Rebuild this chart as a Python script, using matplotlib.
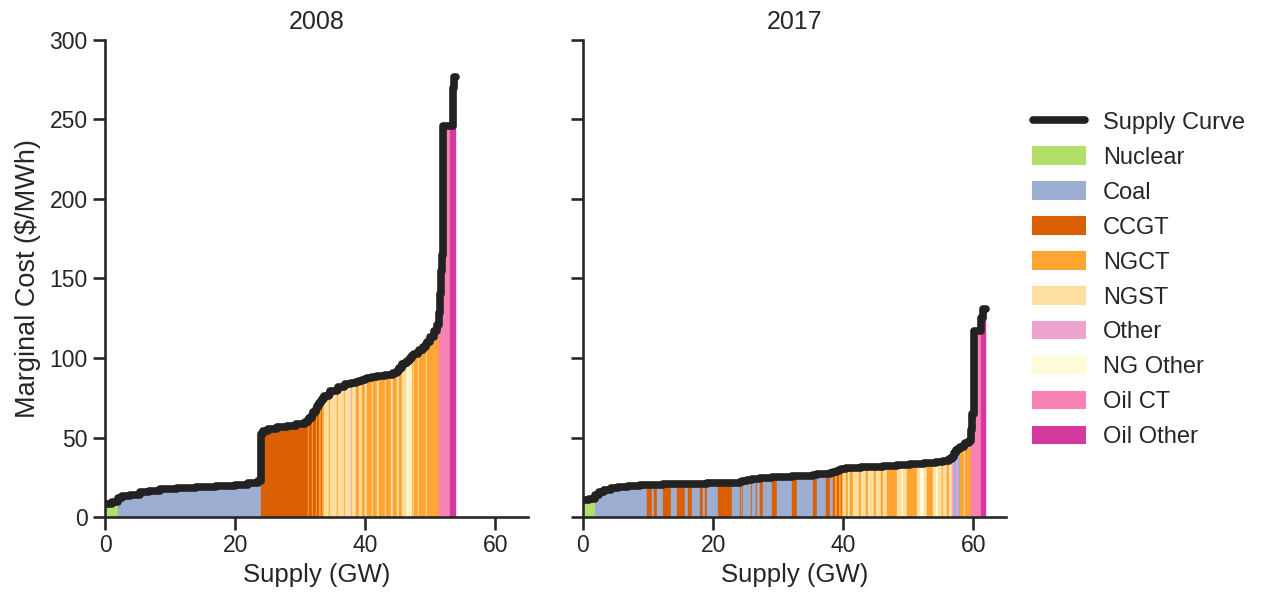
import matplotlib.pyplot as plt
import numpy as np
import seaborn as sns

sns.set_theme(context='talk', style='ticks')
plt.rcParams['font.family'] = ['Liberation Sans', 'DejaVu Sans']

# fuel types in legend order
fuel_names = ['Nuclear', 'Coal', 'CCGT', 'NGCT', 'NGST', 'Other', 'NG Other', 'Oil CT', 'Oil Other']
fuel_colors = ['#b4de6a', '#9daed3', '#d95f02', '#fea433', '#fedf9f',
               '#eea3cf', '#fffdd8', '#f882b3', '#d3399f']

# 2008 merit order: fuel, capacity (GW), marginal cost ($/MWh)
fuel_2008 = ['Nuclear', 'Nuclear',
             'Coal', 'Coal', 'Coal', 'Coal', 'Coal', 'Coal', 'Coal', 'Coal', 'Coal', 'Coal', 'Coal', 'Coal',
             'CCGT', 'CCGT', 'CCGT', 'CCGT', 'CCGT', 'CCGT',
             'CCGT', 'NGCT', 'CCGT', 'NGCT', 'CCGT', 'NGCT', 'CCGT', 'NGCT', 'CCGT', 'NGCT',
             'NGST', 'NGCT', 'NGST', 'NGCT', 'NGST', 'NGCT', 'NGST', 'Other', 'NGST', 'NGCT', 'NGST', 'NGCT', 'NGST', 'Other',
             'NGCT', 'NGST', 'NGCT', 'NGST', 'NGCT', 'NGST', 'NGCT', 'NGST', 'NGCT', 'NGST', 'NGCT', 'NGST',
             'NGST', 'NG Other', 'NGST', 'NG Other', 'NGCT', 'NGST',
             'NGCT', 'NGST', 'NGCT', 'NGCT', 'NGST', 'NGCT', 'NGCT', 'NGST', 'NGCT', 'NGCT',
             'Oil CT', 'Oil CT', 'Oil CT', 'Oil CT', 'Oil CT',
             'Oil Other', 'Oil Other', 'Oil Other']
cap_2008 = [1.0, 1.0,
            0.6, 1.2, 1.5, 1.5, 1.7, 2.5, 3.0, 3.0, 3.0, 2.0, 1.5, 0.5,
            0.3, 0.7, 1.5, 1.5, 1.3, 1.5,
            0.4, 0.2, 0.4, 0.15, 0.5, 0.2, 0.3, 0.3, 0.15, 0.2,
            0.8, 0.2, 1.0, 0.15, 0.9, 0.3, 0.8, 0.15, 0.6, 0.5, 0.5, 0.4, 0.3, 0.1,
            0.7, 0.2, 0.6, 0.3, 0.9, 0.15, 0.8, 0.3, 0.6, 0.3, 0.5, 0.4,
            0.3, 0.3, 0.2, 0.3, 0.2, 0.2,
            0.5, 0.2, 0.6, 0.5, 0.15, 0.5, 0.5, 0.1, 0.4, 0.3,
            0.15, 0.15, 0.15, 0.25, 1.0,
            0.4, 0.3, 0.3]
cost_2008 = [8, 9.5,
             12, 13, 14, 15.5, 16.5, 17.5, 18.2, 18.8, 19.6, 20.3, 21.3, 22.5,
             52, 54, 55.5, 56.5, 57.5, 58.5,
             60, 61, 62, 64, 66, 68, 70, 72, 73, 74.5,
             76, 77.5, 79, 80, 81.5, 82.5, 83.5, 84, 84.5, 85.2, 85.8, 86.3, 86.8, 87,
             87.5, 88, 88.3, 88.6, 88.9, 89.1, 89.3, 89.5, 90.5, 92, 94, 96,
             97, 98, 99, 100, 101, 102,
             102.5, 104, 105, 107, 108.5, 110, 113, 115, 117, 121,
             128, 140, 155, 165, 246,
             246, 270, 277]

# 2017 merit order
fuel_2017 = ['Nuclear', 'Nuclear',
             'Coal', 'Coal', 'Coal', 'Coal', 'Coal', 'Coal', 'Coal',
             'CCGT', 'Coal', 'CCGT', 'Coal', 'CCGT', 'Coal', 'CCGT', 'Coal', 'CCGT', 'Coal',
             'CCGT', 'Coal', 'CCGT', 'Coal', 'CCGT', 'Coal', 'CCGT', 'Coal', 'CCGT', 'Coal',
             'Coal', 'CCGT', 'Coal', 'CCGT', 'Coal', 'CCGT', 'Coal', 'CCGT', 'Coal', 'CCGT',
             'Coal', 'CCGT', 'Coal', 'CCGT', 'Coal', 'CCGT', 'Coal',
             'CCGT', 'NGCT', 'CCGT', 'NGCT', 'CCGT', 'NGCT',
             'NGST', 'NGCT', 'NGST', 'NGCT', 'NGST', 'NGCT', 'NGST', 'NGCT', 'NGST', 'NGCT',
             'NGST', 'NGCT', 'NGST', 'NGCT', 'NGST', 'NG Other', 'NGST', 'NGCT', 'NGCT', 'NGST',
             'NG Other', 'NGST', 'NGCT', 'NGST', 'NG Other', 'NGST', 'NGCT', 'NGST', 'NGCT', 'NGST',
             'Other', 'Coal', 'Other', 'Coal', 'NGCT', 'NGST', 'NGCT', 'NGCT',
             'Oil CT', 'Oil CT', 'Oil CT',
             'Oil Other', 'Oil Other']
cap_2017 = [0.9, 0.95,
            0.6, 0.8, 1.0, 1.2, 1.5, 1.8, 1.05,
            0.8, 0.3, 0.5, 0.85, 1.35, 0.8, 1.3, 0.5, 0.5, 1.3,
            0.4, 0.35, 0.25, 1.8, 2.05, 1.25, 0.2, 0.2, 0.15, 0.55,
            0.7, 0.1, 0.6, 0.1, 0.5, 0.4, 0.5, 0.1, 0.8, 0.8,
            2.3, 0.8, 2.5, 0.5, 1.5, 0.5, 0.6,
            0.3, 0.3, 0.2, 0.4, 0.15, 0.15,
            0.5, 0.3, 0.3, 0.4, 1.0, 0.2, 0.8, 0.3, 1.0, 0.2,
            0.8, 0.3, 0.7, 1.4, 0.8, 0.2, 0.6, 0.5, 1.0, 0.5,
            0.6, 0.5, 0.9, 0.5, 0.3, 0.6, 0.2, 0.6, 0.3, 0.4,
            0.3, 0.4, 0.3, 0.3, 0.5, 0.2, 0.6, 0.4,
            0.15, 0.2, 1.05,
            0.4, 0.4]
cost_2017 = [10.5, 11.5,
             14, 15.8, 17, 18, 18.8, 19.5, 20.0,
             20.1, 20.2, 20.3, 20.4, 20.5, 20.6, 20.7, 20.8, 20.85, 20.9,
             20.95, 21.0, 21.05, 21.1, 21.3, 21.6, 22.0, 22.2, 22.4, 22.6,
             23.0, 23.3, 23.6, 23.9, 24.1, 24.3, 24.5, 24.6, 24.7, 24.9,
             25.2, 25.5, 25.9, 26.3, 26.8, 27.3, 27.8,
             28.2, 28.6, 29.0, 29.6, 30.0, 30.3,
             30.5, 30.7, 30.8, 30.9, 31.0, 31.1, 31.2, 31.3, 31.4, 31.5,
             31.6, 31.7, 31.8, 32.0, 32.4, 32.6, 32.8, 33.0, 33.2, 33.4,
             33.6, 33.8, 34.0, 34.2, 34.4, 34.6, 34.8, 35.1, 35.5, 36.5,
             38.0, 40.0, 42.0, 43.0, 44.0, 45.0, 46.5, 48.0,
             55, 65, 117,
             125, 131]

years = ['2008', '2017']
fuels = [fuel_2008, fuel_2017]
caps = [cap_2008, cap_2017]
costs = [cost_2008, cost_2017]

color_of = dict(zip(fuel_names, fuel_colors))

fig = plt.figure(figsize=(12.61, 5.94), dpi=100)
ax1 = fig.add_axes([0.0833, 0.1296, 0.3354, 0.8031])
ax2 = fig.add_axes([0.4623, 0.1296, 0.3354, 0.8031], sharey=ax1)
axes = [ax1, ax2]

for ax, year, fu, cp, co in zip(axes, years, fuels, caps, costs):
    cp = np.array(cp)
    co = np.array(co, dtype=float)
    edges = np.concatenate([[0], np.cumsum(cp)])
    cols = [color_of[f] for f in fu]
    ax.bar(edges[:-1], co, width=cp, align='edge', color=cols,
           edgecolor=cols, linewidth=0.3)
    ax.plot(edges, np.append(co, co[-1]), drawstyle='steps-post', color='#222222',
            lw=5.5, solid_joinstyle='round', solid_capstyle='round', zorder=5)
    ax.set_title(year, fontsize=18, pad=8)
    ax.set_xlim(0, 65)
    ax.set_ylim(0, 300)
    ax.set_xticks([0, 20, 40, 60])
    ax.set_xlabel('Supply (GW)', fontsize=18.5)
    sns.despine(ax=ax)

ax1.set_yticks([0, 50, 100, 150, 200, 250, 300])
ax1.set_ylabel('Marginal Cost ($/MWh)', fontsize=19.5, labelpad=6)
plt.setp(ax2.get_yticklabels(), visible=False)

handles = [plt.Line2D([], [], color='#222222', lw=5.5, solid_capstyle='round')]
handles += [plt.Rectangle((0, 0), 1, 1, color=c) for c in fuel_colors]
labels = ['Supply Curve'] + fuel_names
fig.legend(handles, labels, loc='center left', bbox_to_anchor=(0.8025, 0.5286),
           frameon=False, fontsize=17, handlelength=2.2, labelspacing=0.55,
           handletextpad=0.75)

fig.savefig('out.png', dpi=100)
